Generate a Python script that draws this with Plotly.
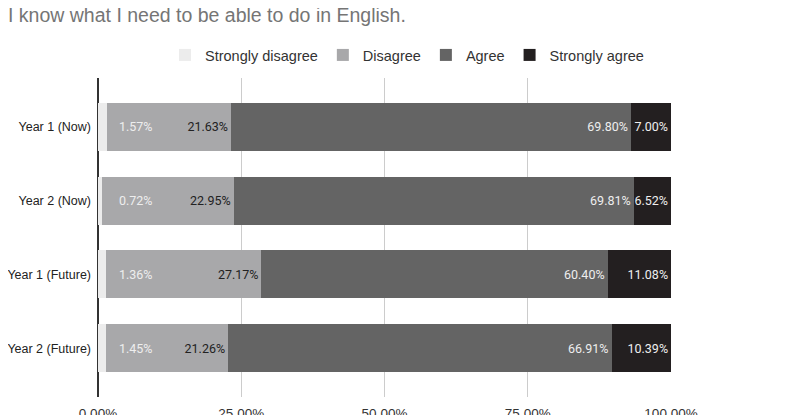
import plotly.graph_objects as go

categories = ["Year 1 (Now)", "Year 2 (Now)", "Year 1 (Future)", "Year 2 (Future)"]
strongly_disagree = [1.57, 0.72, 1.36, 1.45]
disagree = [21.63, 22.95, 27.17, 21.26]
agree = [69.80, 69.81, 60.40, 66.91]
strongly_agree = [7.00, 6.52, 11.08, 10.39]
x_ticks = [0, 25, 50, 75, 100]
x_tick_labels = ["0.00%", "25.00%", "50.00%", "75.00%", "100.00%"]

LABEL_FONT = "Roboto, Arial, sans-serif"
MAIN_FONT = "Liberation Sans, Arial, sans-serif"

# the page adds an 8px body margin, so the figure is sized to fill the rest
W, H = 796, 407

fig = go.Figure()
series = [
    ("Strongly disagree", strongly_disagree, "#ececec", None),
    ("Disagree", disagree, "#a8a8aa", "#222222"),
    ("Agree", agree, "#646464", "#eeeeee"),
    ("Strongly agree", strongly_agree, "#231f20", "#eeeeee"),
]
for name, vals, color, tcolor in series:
    kw = {}
    if tcolor:
        kw = dict(
            text=[f"{v:.2f}%" for v in vals],
            textposition="inside",
            insidetextanchor="end",
            constraintext="none",
            textfont=dict(family=LABEL_FONT, size=12.5, color=tcolor),
            textangle=0,
        )
    fig.add_trace(go.Bar(
        name=name, y=categories, x=vals, orientation="h",
        marker=dict(color=color, line=dict(width=0)),
        hoverinfo="skip", **kw,
    ))

# labels for the tiny "Strongly disagree" segments
for cat, v in zip(categories, strongly_disagree):
    fig.add_annotation(
        x=0, y=cat, xref="x", yref="y", text=f"{v:.2f}%", showarrow=False,
        xanchor="left", xshift=19,
        font=dict(family=LABEL_FONT, size=12.5, color="#eeeeee"),
    )

fig.update_layout(
    barmode="stack",
    bargap=0.35,
    width=W, height=H,
    margin=dict(l=90, r=133, t=70, b=18, autoexpand=False),
    paper_bgcolor="white", plot_bgcolor="white",
    title=dict(
        text="I know what I need to be able to do in English.",
        x=0, xanchor="left", xref="container",
        y=1 - 7 / H, yanchor="middle", yref="container",
        pad=dict(l=0, r=0, t=0, b=0),
        font=dict(family=MAIN_FONT, size=19.5, color="#757575"),
    ),
    legend=dict(
        orientation="h", xref="container", yref="container",
        x=399 / W, xanchor="center", y=1 - 47 / H, yanchor="middle",
        font=dict(family=MAIN_FONT, size=14.5, color="#333333"),
        traceorder="normal", itemclick=False, itemdoubleclick=False,
    ),
    showlegend=True,
)
fig.update_xaxes(
    range=[0, 100], tickvals=x_ticks, ticktext=x_tick_labels,
    showgrid=True, gridcolor="#cccccc", gridwidth=1,
    zeroline=True, zerolinecolor="#333333", zerolinewidth=2,
    showline=False, ticks="", automargin=False, ticklabelstandoff=6,
    tickfont=dict(family=MAIN_FONT, size=13.5, color="#333333"),
    fixedrange=True,
)
fig.update_yaxes(
    categoryorder="array", categoryarray=categories,
    range=[3.66, -0.66], showgrid=False, zeroline=False, showline=False,
    ticks="", ticklabelstandoff=6, automargin=False,
    tickfont=dict(family=MAIN_FONT, size=12.5, color="#222222"),
    fixedrange=True,
)

fig.write_html("out.html")
